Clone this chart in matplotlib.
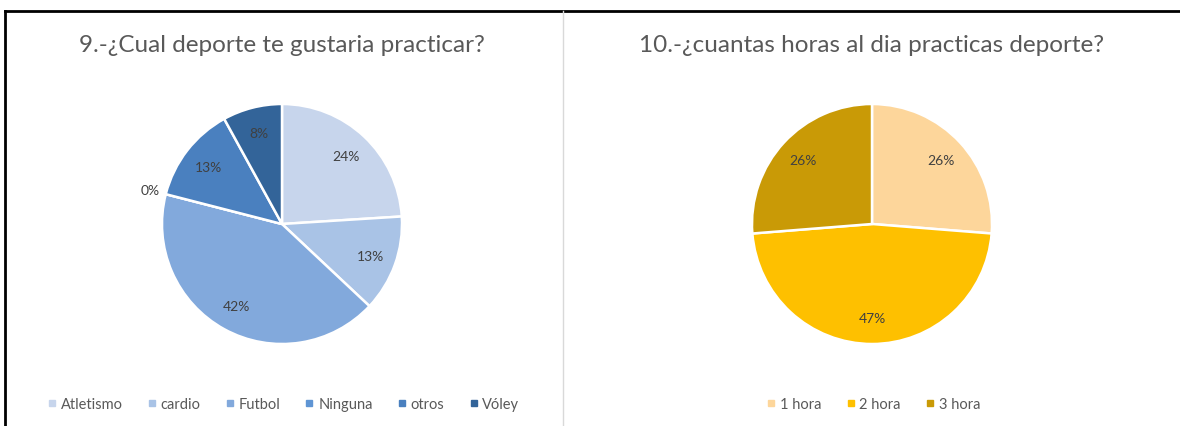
import matplotlib.pyplot as plt
from matplotlib.lines import Line2D
import numpy as np

plt.rcParams['font.family'] = ['Lato', 'DejaVu Sans']

# left chart data
deportes = ['Atletismo', 'cardio', 'Futbol', 'Ninguna', 'otros', 'Vóley']
deportes_pct = [24, 13, 42, 0, 13, 8]
deportes_colors = ['#c7d5ec', '#a9c3e6', '#82a9dc', '#5f95d4', '#4a80bf', '#336499']
titulo_1 = '9.-¿Cual deporte te gustaria practicar?'

# right chart data
horas = ['1 hora', '2 hora', '3 hora']
horas_pct = [26, 47, 26]
horas_colors = ['#fdd69b', '#fec000', '#c99a06']
titulo_2 = '10.-¿cuantas horas al dia practicas deporte?'

W, H = 1180, 427
fig = plt.figure(figsize=(W / 100, H / 100), dpi=100)
fig.patch.set_facecolor('white')


def draw_pie(cx, cy, r, values, colors, names, title):
    ax = fig.add_axes([(cx - r) / W, (H - cy - r) / H, 2 * r / W, 2 * r / H])
    wedges, _ = ax.pie(values, colors=colors, startangle=90, counterclock=False,
                       wedgeprops=dict(edgecolor='white', linewidth=1.8),
                       radius=1.0)
    ax.set_xlim(-1, 1)
    ax.set_ylim(-1, 1)
    ax.set_aspect('equal')
    ax.axis('off')
    total = float(sum(values))
    for w, v in zip(wedges, values):
        mid = np.deg2rad((w.theta1 + w.theta2) / 2.0)
        dist = 1.13 if v == 0 else 0.78
        ax.text(dist * np.cos(mid), dist * np.sin(mid), '%d%%' % round(100 * v / total),
                ha='center', va='center', fontsize=10, color='#404040', clip_on=False)
    fig.text(cx / W, 1 - 45 / H, title, ha='center', va='center',
             fontsize=17.5, color='#595959')
    handles = [Line2D([], [], marker='s', linestyle='none', markersize=5,
                      markerfacecolor=c, markeredgecolor=c) for c in colors]
    fig.legend(handles, names, loc='center', bbox_to_anchor=(cx / W, 1 - 405 / H),
               ncol=len(names), frameon=False, fontsize=10.5, labelcolor='#595959',
               handletextpad=0.1, columnspacing=1.5, handlelength=1.0)


draw_pie(282, 225, 120, deportes_pct, deportes_colors, deportes, titulo_1)
draw_pie(872, 225, 120, horas_pct, horas_colors, horas, titulo_2)

# frame of the screenshot
fig.add_artist(Line2D([5 / W, 1], [1 - 11.5 / H, 1 - 11.5 / H], color='black', linewidth=2))
fig.add_artist(Line2D([5 / W, 5 / W], [0, 1 - 11.5 / H], color='black', linewidth=2))
fig.add_artist(Line2D([563 / W, 563 / W], [0, 1 - 12 / H], color='#d9d9d9', linewidth=1))

fig.savefig('out.png', dpi=100)
